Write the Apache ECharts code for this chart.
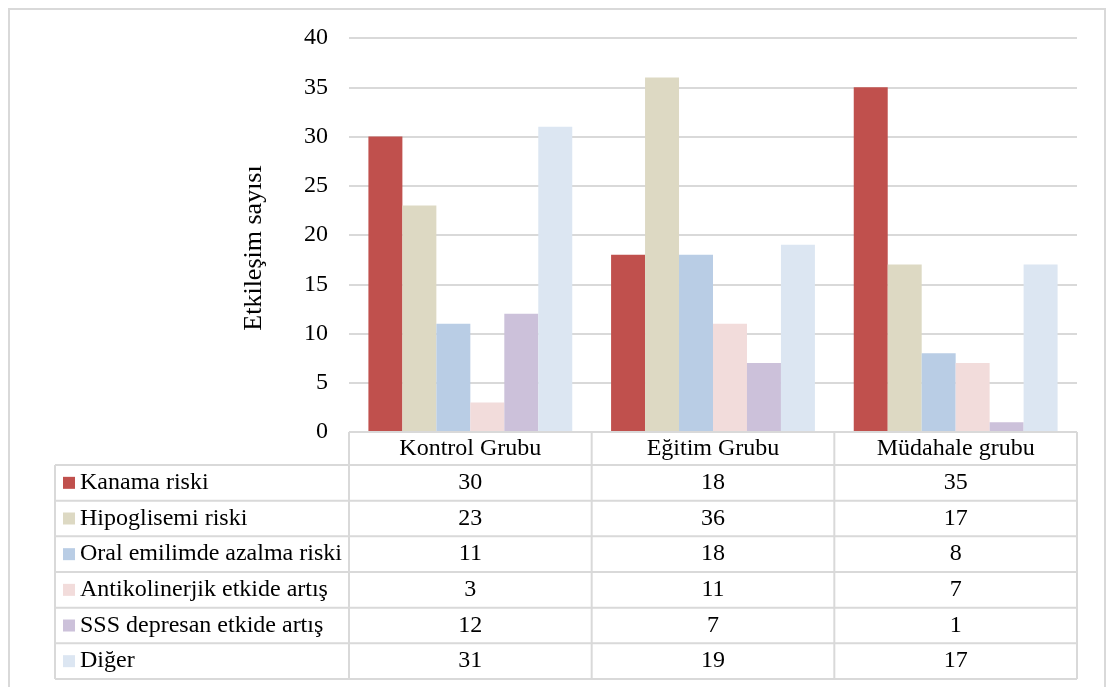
<!DOCTYPE html>
<html>
<head>
<meta charset="utf-8">
<script src="https://cdn.jsdelivr.net/npm/echarts@6/dist/echarts.min.js"></script>
<style>
  html, body { margin: 0; padding: 0; background: #fff; }
  #chart { width: 1106px; height: 687px; }
</style>
</head>
<body>
<div id="chart"></div>
<script>
// Groups on the category axis
const categories = ['Kontrol Grubu', 'Eğitim Grubu', 'Müdahale grubu'];

// Interaction types (series) and their counts per group
const seriesNames = [
  'Kanama riski',
  'Hipoglisemi riski',
  'Oral emilimde azalma riski',
  'Antikolinerjik etkide artış',
  'SSS depresan etkide artış',
  'Diğer'
];
const kanamaRiski = [30, 18, 35];
const hipoglisemiRiski = [23, 36, 17];
const oralEmilim = [11, 18, 8];
const antikolinerjik = [3, 11, 7];
const sssDepresan = [12, 7, 1];
const diger = [31, 19, 17];
const seriesValues = [kanamaRiski, hipoglisemiRiski, oralEmilim, antikolinerjik, sssDepresan, diger];

const seriesColors = ['#c0504d', '#ddd9c3', '#b9cde5', '#f2dcdb', '#ccc1da', '#dce6f2'];

// Value axis scale
const yMin = 0;
const yMax = 40;
const yStep = 5;
const yAxisTitle = 'Etkileşim sayısı';

// Layout
const FONT = '"Liberation Serif", "Times New Roman", serif';
const GRID_LEFT = 349;
const GRID_RIGHT_X = 1077;
const GRID_TOP = 38;
const AXIS_Y = 432;
const HEADER_BOTTOM = 465;
const ROW_H = 35.67;
const TABLE_LEFT = 55;
const LINE_COLOR = '#d9d9d9';

const chart = echarts.init(document.getElementById('chart'), null, { renderer: 'canvas' });

chart.setOption({
  animation: false,
  backgroundColor: '#fff',
  textStyle: { fontFamily: FONT },
  grid: {
    left: GRID_LEFT,
    right: 1106 - GRID_RIGHT_X,
    top: GRID_TOP,
    bottom: 687 - AXIS_Y,
    containLabel: false
  },
  xAxis: {
    type: 'category',
    data: categories,
    axisLine: { show: false },
    axisTick: { show: false },
    axisLabel: {
      margin: 5,
      color: '#000',
      fontSize: 24,
      fontFamily: FONT
    }
  },
  yAxis: {
    type: 'value',
    min: yMin,
    max: yMax,
    interval: yStep,
    name: yAxisTitle,
    nameLocation: 'middle',
    nameGap: 82,
    nameRotate: 90,
    nameTextStyle: {
      color: '#000',
      fontSize: 26,
      fontFamily: FONT,
      padding: [0, 26, 0, 0]
    },
    axisLine: { show: false },
    axisTick: { show: false },
    axisLabel: { margin: 21, color: '#000', fontSize: 24, fontFamily: FONT },
    splitLine: { lineStyle: { color: LINE_COLOR, width: 2 } }
  },
  series: seriesNames.map((name, i) => ({
    name: name,
    type: 'bar',
    data: seriesValues[i],
    barGap: '0%',
    barCategoryGap: '16%',
    itemStyle: { color: seriesColors[i] }
  }))
});

// Data table under the plot: header row, one row per series with legend key
function buildTable() {
  const els = [];
  const colW = (GRID_RIGHT_X - GRID_LEFT) / categories.length;
  const tableBottom = HEADER_BOTTOM + ROW_H * seriesNames.length;
  const line = (x1, y1, x2, y2) => ({
    type: 'line',
    silent: true,
    shape: { x1: x1, y1: y1, x2: x2, y2: y2 },
    style: { stroke: LINE_COLOR, lineWidth: 2 },
    z: 5
  });

  // outer frame
  els.push({
    type: 'rect',
    silent: true,
    shape: { x: 9, y: 9, width: 1096, height: 700 },
    style: { fill: 'none', stroke: LINE_COLOR, lineWidth: 2 },
    z: 1
  });

  // horizontal rules
  els.push(line(GRID_LEFT, AXIS_Y, GRID_RIGHT_X, AXIS_Y));
  for (let r = 0; r <= seriesNames.length; r++) {
    const y = HEADER_BOTTOM + r * ROW_H;
    els.push(line(TABLE_LEFT, y, GRID_RIGHT_X, y));
  }
  // vertical rules
  els.push(line(TABLE_LEFT, HEADER_BOTTOM, TABLE_LEFT, tableBottom));
  for (let c = 0; c <= categories.length; c++) {
    const x = GRID_LEFT + c * colW;
    els.push(line(x, AXIS_Y, x, tableBottom));
  }

  // rows
  seriesNames.forEach((name, r) => {
    const cy = HEADER_BOTTOM + r * ROW_H + ROW_H / 2;
    els.push({
      type: 'rect',
      silent: true,
      shape: { x: 63, y: cy - 6, width: 12, height: 12 },
      style: { fill: seriesColors[r] },
      z: 6
    });
    els.push({
      type: 'text',
      silent: true,
      x: 80,
      y: cy,
      style: {
        text: name,
        fill: '#000',
        font: '24px ' + FONT,
        textAlign: 'left',
        textVerticalAlign: 'middle'
      },
      z: 6
    });
    categories.forEach((cat, c) => {
      const cx = chart.convertToPixel({ xAxisIndex: 0 }, cat);
      els.push({
        type: 'text',
        silent: true,
        x: cx,
        y: cy,
        style: {
          text: String(seriesValues[r][c]),
          fill: '#000',
          font: '24px ' + FONT,
          textAlign: 'center',
          textVerticalAlign: 'middle'
        },
        z: 6
      });
    });
  });
  return els;
}

chart.setOption({ graphic: buildTable() });
</script>
</body>
</html>
